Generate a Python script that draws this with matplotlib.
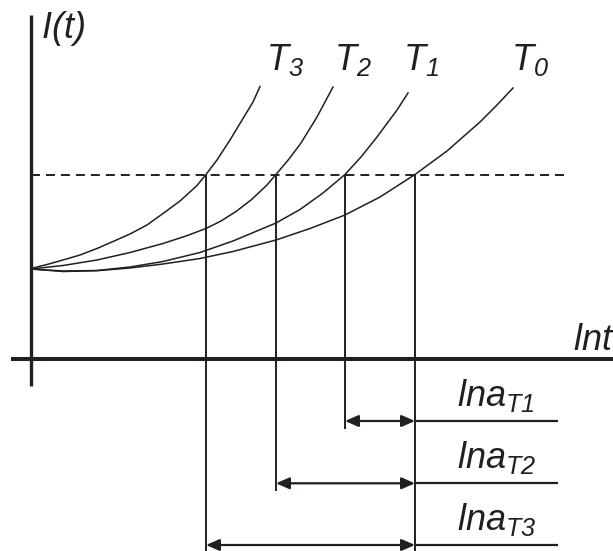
import matplotlib
matplotlib.use("Agg")
import matplotlib.pyplot as plt

# ln t (x) vs I(t) (y)
t3_x = [0, 16, 32, 49, 66, 82, 99, 116, 132, 149, 166, 175, 186, 199, 212, 222, 229]
t3_y = [90.5, 94.5, 99, 104, 110.5, 117.5, 125, 134, 145.5, 158, 173.5, 184.5, 199, 219, 240.5, 257, 272.5]

t2_x = [0, 32, 66, 99, 132, 155, 175, 190, 205, 220, 235, 245, 258, 270, 286, 302]
t2_y = [90, 93.5, 99, 106.5, 115.5, 123, 130.5, 138, 147.5, 159, 173, 184.5, 200, 216, 242, 272]

t1_x = [0, 32, 66, 99, 132, 169, 202, 245, 269, 292, 314, 330, 346, 366, 377]
t1_y = [90, 88, 88.5, 92, 97.5, 106.5, 118, 136, 149.5, 166, 184.5, 202, 222, 249, 266]

t0_x = [0, 32, 66, 99, 132, 169, 202, 245, 279, 314, 349, 384, 416, 449, 466, 482]
t0_y = [90, 87.5, 88.3, 91, 95, 100.5, 107.5, 119, 130.5, 144, 162, 184.5, 208, 237, 254, 271]

threshold = 184.5
cross_x = [384, 314, 245, 175]          # T0, T1, T2, T3 reach the threshold
shift_y = [-62, -124.3, -186]            # arrow rows for a_T1, a_T2, a_T3
curve_labels = ["T_3", "T_2", "T_1", "T_0"]
shift_labels = ["T1", "T2", "T3"]

plt.rcParams['font.family'] = ['Liberation Sans', 'DejaVu Sans']
plt.rcParams['mathtext.fontset'] = 'custom'
plt.rcParams['mathtext.it'] = 'Liberation Sans:italic'
plt.rcParams['mathtext.rm'] = 'Liberation Sans:italic'

ink = '#231f20'

fig = plt.figure(figsize=(6.13, 5.51), dpi=100)
ax = fig.add_axes([0, 0, 1, 1])
ax.set_xlim(-31, 582)
ax.set_ylim(-192, 359)
ax.axis('off')

# axes
ax.plot([0, 0], [-27, 344], color=ink, lw=2.4, solid_capstyle='butt')
ax.plot([-20, 600], [0, 0], color=ink, lw=2.9, solid_capstyle='butt')

# curves
for xs, ys in [(t3_x, t3_y), (t2_x, t2_y), (t1_x, t1_y), (t0_x, t0_y)]:
    ax.plot(xs, ys, color=ink, lw=1.1, solid_joinstyle='round')

# threshold
ax.plot([0, 536], [threshold, threshold], color=ink, lw=1.4, linestyle=(0, (4.6, 3.1)))

# drop lines
bottoms = [-192, shift_y[0] - 8, shift_y[1] - 8, -192]
for x, b in zip(cross_x, bottoms):
    ax.plot([x, x], [threshold, b], color=ink, lw=1.4, solid_capstyle='butt')

# shift arrows
x0 = cross_x[0]
for x, y, lab in zip(cross_x[1:], shift_y, shift_labels):
    ax.annotate('', xy=(x, y), xytext=(x0, y),
                arrowprops=dict(arrowstyle='<|-|>,head_length=0.8,head_width=0.35',
                                color=ink, lw=1.6, shrinkA=0, shrinkB=0,
                                mutation_scale=10))
    ax.plot([x0, 527], [y, y], color=ink, lw=1.6, solid_capstyle='butt')
    ax.text(426, y + 15, r'$lna_{%s}$' % lab, fontsize=26,
            color=ink, ha='left', va='baseline')

# labels
ax.text(10, 321, r'$I(t)$', fontsize=26, color=ink, ha='left', va='baseline')
ax.text(542, 9, r'$lnt$', fontsize=26, color=ink, ha='left', va='baseline')
for lab, x in zip(curve_labels, [235, 303, 372, 480]):
    ax.text(x, 289, r'$%s$' % lab, fontsize=26, color=ink, ha='left', va='baseline')

fig.savefig('out.png', dpi=100)
